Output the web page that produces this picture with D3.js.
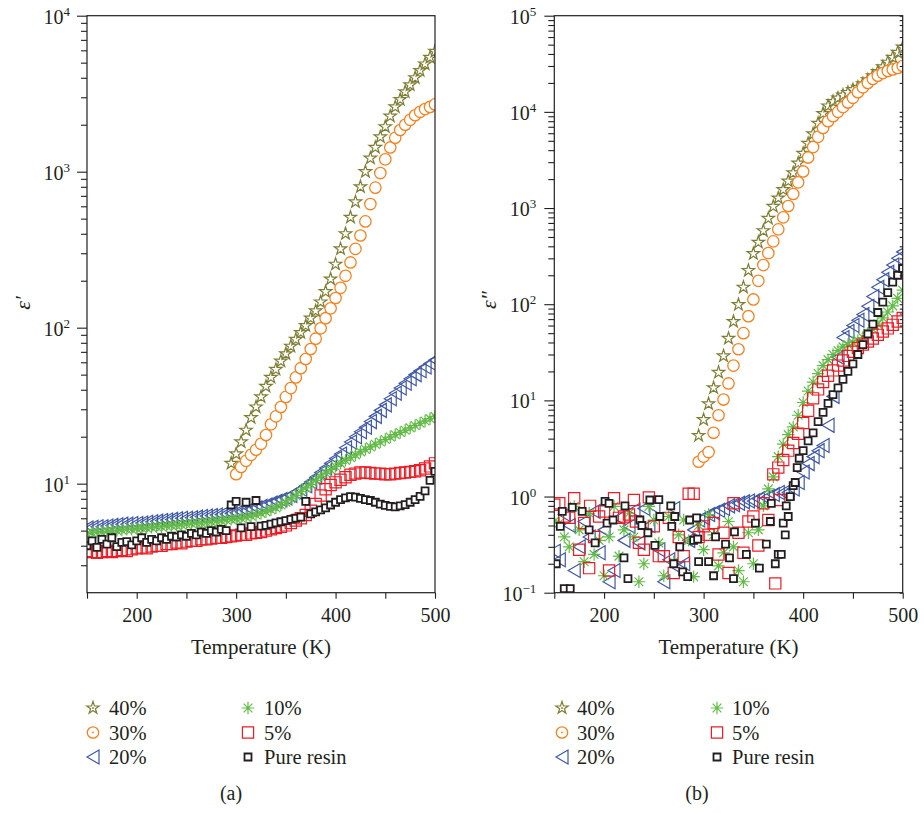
<!DOCTYPE html>
<html><head><meta charset="utf-8">
<script src="https://cdn.jsdelivr.net/npm/d3@7"></script>
<style>body{margin:0;background:#fff}svg{display:block}</style>
</head><body>
<svg id="chart" width="924" height="813"></svg>
<script>
// ---------------- DATA ----------------
const temperatureTicks = [150, 200, 250, 300, 350, 400, 450, 500];
const temperatureLabels = [200, 300, 400, 500];
const legendLabels = ["40%", "30%", "20%", "10%", "5%", "Pure resin"];
const drawOrder = ["20%", "10%", "5%", "40%", "30%", "Pure resin"];

// Panel (a): real permittivity eps'
const a40T = d3.range(295, 501, 5);
const a40V = [13.5,15.5,18.5,22,26.5,31,36,42,48,54,61,68,76,84,93,103,115,128,146,170,205,255,320,400,510,640,800,1000,1220,1430,1670,1940,2270,2600,2900,3250,3600,4000,4450,4900,5400,5900];
const a30T = d3.range(300, 501, 5);
const a30V = [11.5,12.8,14,15.3,16.5,18,20.5,24,27,31,36,41,48,55,63,73,85,99,115,133,155,180,215,262,320,390,480,620,790,980,1200,1430,1650,1850,2000,2150,2300,2420,2520,2600,2700];
const a20T = d3.range(150, 501, 5);
const a20V = [5.2,5.25,5.3,5.3,5.35,5.4,5.45,5.5,5.5,5.55,
  5.55,5.6,5.65,5.7,5.75,5.8,5.85,5.9,5.95,6.0,
  6.0,6.05,6.1,6.15,6.2,6.25,6.3,6.35,6.4,6.45,
  6.5,6.6,6.7,6.85,7.0,7.15,7.3,7.5,7.7,7.9,
  8.1,8.4,8.8,9.2,9.7,10.3,11.0,11.8,12.6,13.5,
  14.5,15.5,17,18.5,20,21.5,23,25,27,29.5,
  32,35,38,41,44,47,50,53,56,59,62];
const a10T = d3.range(150, 501, 5);
const a10V = [4.8,4.85,4.9,4.9,4.95,5.0,5.0,5.05,5.1,5.1,
  5.15,5.2,5.2,5.25,5.3,5.3,5.35,5.4,5.4,5.45,
  5.5,5.55,5.6,5.6,5.65,5.7,5.75,5.8,5.85,5.9,
  5.95,6.0,6.1,6.2,6.3,6.45,6.6,6.8,7.0,7.3,
  7.6,8.0,8.4,8.9,9.4,9.9,10.5,11.1,11.7,12.3,
  12.9,13.5,14.1,14.7,15.3,16.0,16.6,17.2,17.9,18.5,
  19.2,19.9,20.6,21.3,22.0,22.8,23.6,24.4,25.2,26.1,27];
const a5T = d3.range(150, 501, 5);
const a5V = [3.7,3.65,3.6,3.65,3.7,3.65,3.7,3.75,3.7,3.8,
  3.85,3.9,3.85,3.95,4.0,4.0,4.1,4.1,4.2,4.15,
  4.25,4.3,4.3,4.4,4.4,4.45,4.5,4.5,4.55,4.6,
  4.65,4.7,4.7,4.8,4.85,4.9,5.0,5.1,5.2,5.3,
  5.4,5.6,5.8,6.0,6.3,6.7,7.4,8.4,9.2,9.8,
  10.2,10.6,11.0,11.4,11.6,11.8,11.8,11.7,11.6,11.6,
  11.5,11.5,11.6,11.7,11.8,11.9,12.0,12.2,12.5,12.9,13.5];
const a0T = d3.range(150, 501, 5);
const a0V = [4.0,4.3,3.9,4.4,4.1,4.5,3.95,4.2,4.25,4.05,
  4.3,4.5,4.2,4.4,4.3,4.5,4.4,4.6,4.55,4.7,
  4.6,4.8,4.7,4.9,4.8,5.0,4.9,5.1,5.0,7.3,
  7.7,5.2,7.6,5.3,7.8,5.35,5.4,5.5,5.6,5.7,
  5.8,5.9,6.0,6.1,7.7,6.4,6.6,6.8,7.0,7.3,
  7.6,7.9,8.1,8.25,8.2,8.05,7.9,7.8,7.6,7.4,
  7.25,7.15,7.1,7.2,7.35,7.6,7.9,8.3,9.0,10.5,12];

// Panel (b): imaginary permittivity eps''
const b40T = d3.range(295, 501, 5);
const b40V = [4.3,6.3,9.2,13.5,19.5,29,44,66,99,150,224,335,440,580,780,1040,1270,1550,1900,2320,2930,3700,4700,5900,7600,9600,11500,12800,13900,14900,15900,17000,18000,19600,21500,23700,26200,29300,32800,36800,41500,47000];
const b30T = d3.range(295, 501, 5);
const b30V = [2.3,2.6,2.9,4.6,7.0,10.2,15,23,34,50,75,112,175,255,340,450,600,800,1050,1400,1850,2400,3350,4300,5500,6800,8000,9000,10000,11200,12500,14000,16000,18000,20000,22000,23800,25300,26600,27600,28600,30000];
const b20T = d3.range(150, 501, 5);
const b20V = [0.27,0.22,0.65,0.5,0.17,0.3,0.55,0.38,0.7,0.26,
  0.45,0.13,0.17,0.6,0.35,0.49,0.72,0.33,0.75,0.5,
  0.78,0.28,0.13,0.22,0.75,0.18,0.2,0.35,0.45,0.57,
  0.6,0.65,0.68,0.72,0.75,0.8,0.82,0.85,0.88,0.9,
  0.9,0.95,1.0,1.0,1.05,1.1,1.1,1.1,1.2,1.4,
  1.8,2.2,2.6,3.0,3.4,5.5,11,28,45,52,
  60,68,78,95,120,150,180,215,255,300,350];
const b10T = d3.range(150, 501, 5);
const b10V = [0.55,0.53,0.38,0.3,0.79,0.45,0.21,0.67,0.25,0.35,
  0.15,0.38,0.79,0.24,0.45,0.67,0.38,0.13,0.2,0.79,
  0.57,0.33,0.15,0.62,0.21,0.4,0.57,0.35,0.147,0.5,
  0.28,0.65,0.4,0.19,0.26,0.55,0.3,0.17,0.13,0.42,
  0.2,0.45,0.8,1.2,1.6,2.6,3.5,4.4,5.3,7.0,
  9.5,12.5,15.5,19,23,26.5,30,33,36,38,
  40,42,45,50,55,62,72,83,96,115,140];
const b5T = d3.range(150, 501, 5).concat([372, 376, 232, 186]);
const b5V = [0.82,0.85,0.62,0.6,0.96,0.28,0.53,0.18,0.38,0.62,
  0.7,0.17,0.96,0.6,0.62,0.65,0.92,0.33,0.28,0.98,
  0.49,0.24,0.24,0.6,0.16,0.38,0.24,1.07,1.07,0.38,
  0.49,0.4,0.53,0.25,0.42,0.16,0.85,0.42,0.26,0.55,
  0.62,0.31,0.85,0.57,1.7,2.0,2.4,3.0,3.6,4.5,
  5.8,7.8,10.5,13,15.5,18,20.5,23,26,29,
  32,35,38,41,44,48,52,56,61,66,72,
  0.125,0.92,0.55,0.8];
const b0T = [152,156,158,160,166,168,178,185,191,201,203,205,209,220,221,224,236,238,244,246,251,255,256,267,268,270,271,276,279,284,286,290,293,294,295,305,310,312,322,326,331,330,343,352,356,363,367,368,372,375,378,380,382,383,385,387,390,392,394,396,400,405,410,415,420,425,430,435,440,445,450,455,460,465,470,475,480,485,490,495,500];
const b0V = [0.2,0.49,0.7,0.11,0.11,0.77,0.7,0.45,0.33,0.89,0.53,0.85,0.57,0.23,0.8,0.14,0.57,0.5,0.42,0.92,0.31,0.93,0.62,0.8,0.49,0.2,0.62,0.3,0.165,0.147,0.57,0.35,0.6,0.36,0.21,0.21,0.15,0.38,0.32,0.23,0.43,0.14,0.25,0.53,0.18,0.32,0.55,0.85,0.2,0.25,0.25,0.53,0.4,0.8,0.62,1.0,1.3,1.4,2.0,2.5,3.0,3.8,4.6,6.0,7.5,9.3,11.5,13.5,16.5,20,24,30,38,49,62,82,105,132,170,200,235];

// ---------------- STYLE ----------------
const FONT = '"Liberation Serif","Times New Roman",Times,serif';
const INK = '#231f20';
const STYLE = {
  "40%": {shape: 'star', color: '#7e7e34', fill: '#fff', sw: 1.2},
  "30%": {shape: 'circle', color: '#f6821f', fill: '#fff', sw: 1.3},
  "20%": {shape: 'tri', color: '#3f58a7', fill: 'none', sw: 1.2},
  "10%": {shape: 'ast', color: '#63bb47', fill: 'none', sw: 1.2},
  "5%": {shape: 'sq', color: '#ed1c24', fill: 'none', sw: 1.2},
  "Pure resin": {shape: 'sqs', color: INK, fill: '#fff', sw: 1.8}
};

function markerD(shape) {
  switch (shape) {
    case 'star': return d3.symbol(d3.symbolStar, 48)();
    case 'circle': return d3.symbol(d3.symbolCircle, Math.PI * 5.7 * 5.7)();
    case 'tri': return 'M-6,0L6,-7L6,7Z';
    case 'ast': {
      let p = '';
      for (let k = 0; k < 4; k++) {
        const ang = k * Math.PI / 4, dx = 6.2 * Math.cos(ang), dy = 6.2 * Math.sin(ang);
        p += `M${-dx},${-dy}L${dx},${dy}`;
      }
      return p;
    }
    case 'sq': return 'M-5.6,-5.6h11.2v11.2h-11.2z';
    case 'sqs': return 'M-3.5,-3.5h7v7h-7z';
  }
}

const panels = [
  {
    id: 'a', left: 87, right: 435, top: 15.7, bottom: 592.7,
    yDomain: [2, 1e4], powers: [1, 2, 3, 4], labelGap: 17,
    ylabel: 'ε′', ylabelX: 30, ylabelY: 303, rightTicks: false,
    series: {"40%": [a40T, a40V], "30%": [a30T, a30V], "20%": [a20T, a20V],
             "10%": [a10T, a10V], "5%": [a5T, a5V], "Pure resin": [a0T, a0V]},
    legendX: [93, 248], textDX: 16, caption: '(a)', captionX: 231
  },
  {
    id: 'b', left: 554.3, right: 902.7, top: 15.7, bottom: 592.7,
    yDomain: [0.1, 1e5], powers: [-1, 0, 1, 2, 3, 4, 5], labelGap: 18,
    ylabel: 'ε″', ylabelX: 496, ylabelY: 300, rightTicks: true,
    series: {"40%": [b40T, b40V], "30%": [b30T, b30V], "20%": [b20T, b20V],
             "10%": [b10T, b10V], "5%": [b5T, b5V], "Pure resin": [b0T, b0V]},
    legendX: [562, 717], textDX: 15, caption: '(b)', captionX: 697
  }
];

const legendRows = [708, 732.5, 757];

const svg = d3.select('#chart').attr('font-family', FONT);
const defs = svg.append('defs');

panels.forEach(p => {
  const x = d3.scaleLinear().domain([150, 500]).range([p.left, p.right]);
  const y = d3.scaleLog().domain(p.yDomain).range([p.bottom, p.top]);
  const g = svg.append('g');

  defs.append('clipPath').attr('id', 'clip-' + p.id)
    .append('rect').attr('x', p.left).attr('y', p.top)
    .attr('width', p.right - p.left).attr('height', p.bottom - p.top);

  const plot = g.append('g').attr('clip-path', `url(#clip-${p.id})`);
  drawOrder.forEach(key => {
    const [T, V] = p.series[key];
    const st = STYLE[key];
    const d = markerD(st.shape);
    plot.append('g').selectAll('path')
      .data(T.map((t, i) => [t, V[i]]))
      .join('path')
      .attr('d', d)
      .attr('transform', v => `translate(${x(v[0])},${y(v[1])})`)
      .attr('fill', st.fill)
      .attr('stroke', st.color)
      .attr('stroke-width', st.sw);
  });

  g.append('rect').attr('x', p.left).attr('y', p.top)
    .attr('width', p.right - p.left).attr('height', p.bottom - p.top)
    .attr('fill', 'none').attr('stroke', INK).attr('stroke-width', 1.2);

  const [ymin, ymax] = p.yDomain;
  const majors = p.powers.map(e => Math.pow(10, e));
  const minors = [];
  for (let e = Math.floor(Math.log10(ymin)); e < Math.log10(ymax); e++) {
    for (let m = 2; m <= 9; m++) {
      const v = m * Math.pow(10, e);
      if (v > ymin * 1.001 && v < ymax) minors.push(v);
    }
  }
  const styleAxis = sel => {
    sel.select('.domain').remove();
    sel.selectAll('line').attr('stroke', INK).attr('stroke-width', 1.1);
  };
  g.append('g').attr('transform', `translate(${p.left},0)`)
    .call(d3.axisLeft(y).tickValues(majors).tickSize(10).tickFormat(''))
    .call(styleAxis);
  g.append('g').attr('transform', `translate(${p.left},0)`)
    .call(d3.axisLeft(y).tickValues(minors).tickSize(6).tickFormat(''))
    .call(styleAxis);
  if (p.rightTicks) {
    g.append('g').attr('transform', `translate(${p.right},0)`)
      .call(d3.axisLeft(y).tickValues(majors.concat(minors)).tickSize(3).tickFormat(''))
      .call(styleAxis);
  }

  p.powers.forEach(e => {
    const t = g.append('text')
      .attr('x', p.left - p.labelGap)
      .attr('y', y(Math.pow(10, e)) + 8)
      .attr('text-anchor', 'end')
      .attr('font-size', 20)
      .attr('fill', INK);
    t.append('tspan').text('10');
    t.append('tspan').attr('dy', -8).attr('font-size', 13)
      .text(e < 0 ? '\u2212' + (-e) : String(e));
  });

  const xa = g.append('g').attr('transform', `translate(0,${p.bottom})`)
    .call(d3.axisBottom(x).tickValues(temperatureTicks).tickSize(6).tickPadding(9)
      .tickFormat(d => temperatureLabels.includes(d) ? String(d) : ''));
  xa.select('.domain').remove();
  xa.selectAll('line').attr('stroke', INK).attr('stroke-width', 1.1);
  xa.selectAll('text').attr('font-family', FONT).attr('font-size', 20).attr('fill', INK);
  xa.attr('font-family', FONT);

  g.append('text')
    .attr('x', (p.left + p.right) / 2).attr('y', 654)
    .attr('text-anchor', 'middle').attr('font-size', 21).attr('fill', INK)
    .text('Temperature (K)');
  g.append('text')
    .attr('transform', `translate(${p.ylabelX},${p.ylabelY}) rotate(-90)`)
    .attr('text-anchor', 'middle').attr('font-size', 22).attr('font-style', 'italic')
    .attr('fill', INK)
    .text(p.ylabel);

  legendLabels.forEach((lab, i) => {
    const col = i < 3 ? 0 : 1, row = i % 3;
    const cx = p.legendX[col], cy = legendRows[row];
    const st = STYLE[lab];
    g.append('path').attr('d', markerD(st.shape))
      .attr('transform', `translate(${cx},${cy})`)
      .attr('fill', st.fill).attr('stroke', st.color).attr('stroke-width', st.sw);
    if (st.shape === 'circle' || st.shape === 'star') {
      g.append('circle').attr('cx', cx).attr('cy', cy).attr('r', 0.9).attr('fill', st.color);
    }
    g.append('text').attr('x', cx + p.textDX).attr('y', cy + 7)
      .attr('font-size', 20.5).attr('fill', INK).text(lab);
  });

  g.append('text').attr('x', p.captionX).attr('y', 800)
    .attr('text-anchor', 'middle').attr('font-size', 20).attr('fill', INK)
    .text(p.caption);
});
</script>
</body></html>
